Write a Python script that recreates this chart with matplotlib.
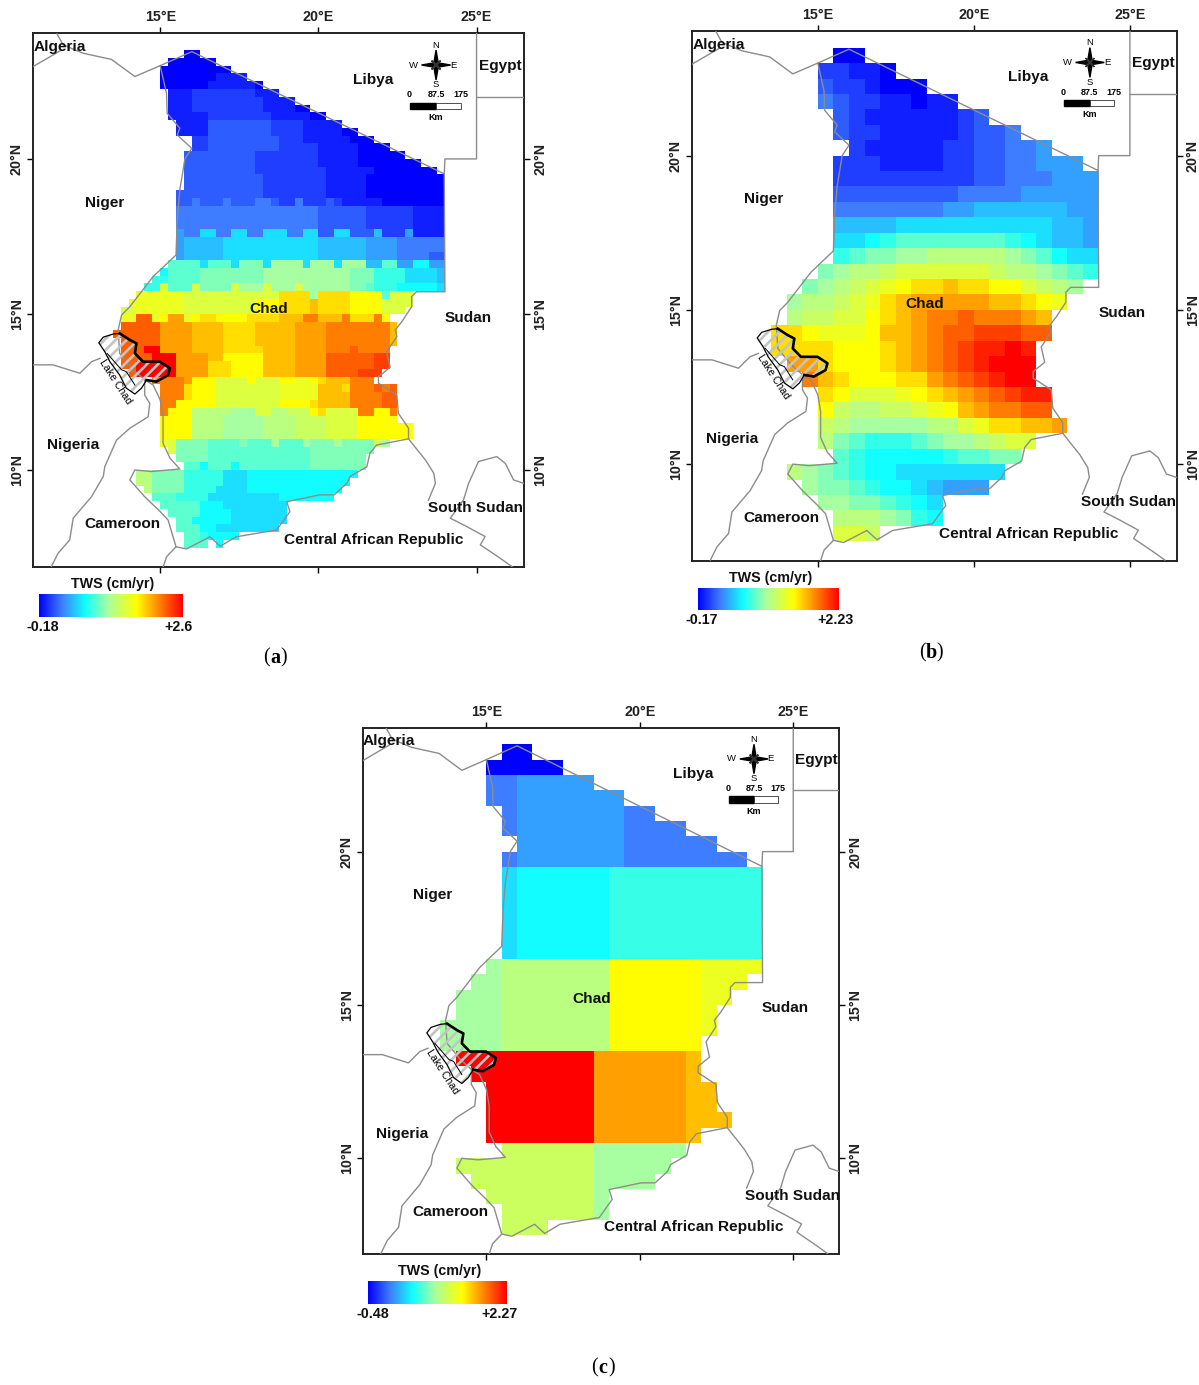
import numpy as np
import matplotlib
matplotlib.use("Agg")
import matplotlib.pyplot as plt
from matplotlib.colors import LinearSegmentedColormap
from matplotlib.patches import Polygon

plt.rcParams['font.family'] = ['Liberation Sans', 'DejaVu Sans']
plt.rcParams['hatch.linewidth'] = 1.9

W, H = 1199, 1385

# each letter is one grid cell, a = lowest class, z = highest class, . = no data
# values of the classes in cm/yr
levels_a = [-0.18, -0.07, 0.04, 0.15, 0.26, 0.38, 0.49, 0.60, 0.71, 0.82, 0.93, 1.04, 1.15,
            1.27, 1.38, 1.49, 1.60, 1.71, 1.82, 1.93, 2.04, 2.16, 2.27, 2.38, 2.49, 2.60]
levels_b = [-0.17, -0.07, 0.02, 0.12, 0.21, 0.31, 0.41, 0.50, 0.60, 0.69, 0.79, 0.89, 0.98,
            1.08, 1.17, 1.27, 1.37, 1.46, 1.56, 1.65, 1.75, 1.85, 1.94, 2.04, 2.13, 2.23]
levels_c = [-0.48, -0.37, -0.26, -0.15, -0.04, 0.07, 0.18, 0.29, 0.40, 0.51, 0.62, 0.73, 0.84,
            0.95, 1.06, 1.17, 1.28, 1.39, 1.50, 1.61, 1.72, 1.83, 1.94, 2.05, 2.16, 2.27]

# panel a: 0.25 degree cells, first row 23.5N, first column 13.5E
rows_a = [
    ".........aa",
    ".......aaaaaa",
    "......aaaaaaaaa",
    "......aaaaaaabbbb",
    "......aaaaaabbbbbba",
    ".......bbbccccccccbbb",
    ".......bbbcccccccccbbbb",
    ".......bbbcccccccccbbbbaa",
    ".......bbbbbccccccccbbbbbaa",
    "........bbbbddddddddccccbbbbb",
    "........bbbbddddddddccccbbbbbaa",
    "..........ccdddddddddcccbbbbbbaaa",
    "..........ccdddddddddcccccbbbbbaaaa",
    ".........dddddddddccccccccbbbbbaaaaaa",
    ".........dddddddddccccccccbbbbbaaaaaaaa",
    ".........dddddddddcccccccccbbbbbbaaaaaaaa",
    ".........ddddddddddccccccccbbbbbaaaaaaaaaa",
    ".........ddddddddddccccccccbbbbbaaaaaaaaaa",
    "........dddddddddddccccccccbbbbbaaaaaaaaaa",
    "........ddedddedddeedccecccdcbbbbbaaaaaaaa",
    "........eeeeeeeeeeeeeeeeeeddddddccccccbbbb",
    "........eeeeeeeeeeeeeeeeeeddddddccccccbbbb",
    "........eeeeeeeeeeeeeeeeeeddddddccccccbbbb",
    "........feehheehheehhheehhddhhdddgcccfbbbb",
    "........fggggghhhhhhhhhhhhggggggffffeeeeee",
    "........fggggghhhhhhhhhhhhggggggffffeeeeee",
    "........fggggghhhhhhhhhhhhggggggffffeeeedd",
    ".......kkkkhkkkhlllhmmmmhmmmhmmmggkkffiiff",
    "......ikkkkllllllllmmmmmmmmmmmllljjjjhhhhg",
    ".....jjkkkkllllllllmmmmmmmmmmmllljjjjhhhhg",
    "....jjpkkkpllllpmmmpmmmpmmmmmmllkjjjiiiiih",
    "...qqqqqqppppppppppppssssmssssrrrrkppp",
    "..qqqqqqqppppppppprrrsssstssssrrrrpppp",
    ".ppqqqqqqppppppppprrrsssstssssrrrrppp",
    ".qqwwqruuqrssrrrrsssstttvvtttvsssvr",
    ".wwwwwuuuuttttsssstttttuuuuvvvvvvvvt",
    "wwwwwwuuuuttttsssstttttuuuuvvvvvvvvt",
    ".wwwwwuuuuttttsssstttttuuuuvvvvvvvvt",
    ".wwwzzuuuuttttsssssttttuuuuvvvwvvvv",
    ".wwwwzzzuuuuttrrrrrttttuuuuwwwwwwxx",
    ".wwzzzzzuuuusssrrrrttttuuuuwwwwwwxx",
    "..wzzzzzuuuusssrrrrttttuuuuwwwwxxx",
    ".....vvvvurrrpppprppprrqqrstttvvv",
    "......vvvsrrrppppppppqqqqqtttsvvvwvw",
    "......vvvsrrrppppppppqqqqqttttvvvvww",
    "......vvrrrrrpppppppprrrrsttttvvvvww",
    "......vrrrnnnnnmmmppnnooorsppppvvrrv",
    "......rrrrnnnnmmmmmnnnnoooopppprrrrr",
    "......rrrrnnnnmmmmmnnnnoooopppprrrrrrr",
    "......rrrrnnnnmmmmmnnnnoooopppprrrrrrr",
    "......qpllllkkkklkkkmkkkmlllmllllom",
    ".......pllllkkkkkkkkkkkkkllllllll",
    "........llllkkkkkkkkkkkkklllllll",
    ".........kkikkkikkkkkkkkklllllll",
    "...nnlllljjjjjhhhiiiiiiiiiiiiii",
    "...nnlllljjjjjhhhiiiiiiiiiiiii",
    "....nlllljjjjhhhhiiiiiiiiiiii",
    ".....kkkjjjjhhhhhhhhhiiiiiii",
    "......kkkkkiiihhhhhhhh",
    ".......kkkkiiiihhhhhhh",
    "........kkiiiiihhhhhhh",
    "........kkkiihhhhhhhh",
    ".........kkjiiii",
    ".........kkk.i",
]

# panels b and c: 0.5 degree cells
rows_b = [
    "....aa",
    "...ccbba",
    "...dccbaaa",
    "...edccbbabb",
    "....dcbbbbbbcd",
    "....dccbbbbbcdde",
    ".....cbbbbbccddeef",
    "....cccbbbbccddeefff",
    "....cccccccccddeeefff",
    "....ddddddddeeeefffff",
    "....eeeeeeeffggggggff",
    "....gggghhhhhhhhhhggf",
    "....hhijkkkkkkkjihggf",
    "....jkllmmnnnnnmlkihh",
    "...lmnnopppppponnmlkj",
    "..lmnopqrsstssrrponm",
    ".mnnopqstuuuuuttsrq",
    ".noopprstuvvwvvvut",
    "ssrqqqrttuvwwxxxww",
    "ssssrrrstuvwxyyzy",
    ".uusrrrstuvwxyzzz",
    "..vtsrrrssuvwxyzz",
    "...srpppqrstuvwxyy",
    "...ronnoopqrtuvvww",
    "...onmmmmmnnpqssttu",
    "...nlkjjjklmmnopp",
    "....kjiiiiijkkll",
    ".nmlkjiihhhhhhh",
    "..mllkjiihgfff",
    "...mmllkjih",
    "....nnnmlji",
    "....ppo",
]

rows_c = [
    "....aa",
    "...aaaaa",
    "...eefffff",
    "...eefffffff",
    "....efffffffee",
    "....efffffffeeee",
    ".....fffffffeeeeee",
    "....efffffffeeeeeeee",
    "....hiiiiiijjjjjjjjjj",
    "....hiiiiiijjjjjjjjjj",
    "....hiiiiiijjjjjjjjjj",
    "....hiiiiiijjjjjjjjjj",
    "....hiiiiiijjjjjjjjjj",
    "....hiiiiiijjjjjjjjjj",
    "...mnnnnnnnrrrrrrqqqq",
    "..mmnnnnnnnrrrrrrqqq",
    ".mmmnnnnnnnrrrrrrqq",
    ".mmmnnnnnnnrrrrrrq",
    "mmmmnnnnnnnrrrrrrq",
    "mmmmnnnnnnnrrrrrr",
    ".zzzzzzzzzuuuuuut",
    "..zzzzzzzzuuuuuut",
    "...zzzzzzzuuuuuutt",
    "...zzzzzzzuuuuuutt",
    "...zzzzzzzuuuuuuttt",
    "...zzzzzzzuuuuuut",
    "....oooooommmmmm",
    ".ooooooooommmmm",
    "..oooooooommmm",
    "...ooooooom",
    "....oooooom",
    "....ooo",
]

# borders in lon, lat
borders = [
    [(11.74, 24.02), (11.93, 23.67), (12.56, 23.4), (13.46, 23.2), (14.2, 22.65), (15.0, 23.0),
     (16.0, 23.45), (23.98, 19.52), (24.0, 20.0), (25.0, 20.0), (25.0, 24.04)],
    [(11.88, 23.5), (10.98, 22.97)],
    [(25.0, 22.0), (26.5, 22.0)],
    [(15.0, 23.0), (15.2, 22.1), (15.22, 21.47), (15.62, 20.99), (15.54, 20.77), (16.0, 20.34),
     (15.78, 20.0), (15.62, 19.0), (15.54, 18.04), (15.5, 16.91), (14.78, 16.22), (14.04, 15.25),
     (13.78, 14.98), (13.67, 14.5), (13.72, 13.75), (14.15, 13.22), (14.51, 12.9)],
    [(23.98, 19.52), (24.0, 15.73), (23.1, 15.73), (22.95, 15.57), (22.95, 15.25), (22.64, 14.77),
     (22.43, 14.5), (22.48, 14.29), (22.16, 13.8), (22.27, 13.3), (21.9, 13.0), (21.9, 12.79),
     (22.48, 12.41), (22.53, 11.82), (22.85, 11.34), (22.85, 11.0), (21.84, 10.8), (21.63, 10.54),
     (21.53, 10.1), (21.0, 9.79), (20.9, 9.57), (20.5, 9.2), (20.05, 9.2), (19.0, 8.98),
     (19.1, 8.66), (18.68, 8.07), (17.4, 7.85), (16.9, 7.55), (16.57, 7.85), (15.83, 7.46),
     (15.5, 7.53), (15.2, 7.21), (15.09, 6.87)],
    [(22.85, 11.0), (23.4, 10.3), (23.65, 9.89), (23.7, 9.57), (23.48, 9.03)],
    [(26.49, 9.57), (26.17, 9.68), (25.91, 10.21), (25.64, 10.43), (25.06, 10.27), (24.75, 9.57),
     (24.59, 9.04), (24.17, 8.45), (24.69, 8.18), (25.27, 7.86), (25.12, 7.59), (25.75, 7.16),
     (26.12, 6.89)],
    [(15.5, 7.53), (15.25, 8.39), (15.0, 8.66), (14.51, 9.14), (14.04, 9.68), (14.2, 10.0),
     (14.72, 9.95), (15.62, 10.03), (15.31, 10.38), (15.09, 10.86), (15.09, 11.71), (15.0, 12.25),
     (14.78, 12.73), (14.51, 12.9)],
    [(14.51, 12.9), (14.51, 12.41), (14.67, 12.14), (14.62, 11.71), (14.04, 11.34), (13.62, 10.96),
     (13.25, 10.11), (13.2, 9.79), (12.83, 9.14), (12.25, 8.45), (12.14, 7.75), (11.77, 7.32),
     (11.56, 6.89)],
    [(10.98, 13.38), (11.61, 13.38), (12.46, 13.11), (12.83, 13.48), (13.1, 13.59)],
]

lake = [(13.06, 14.09), (13.2, 14.27), (13.51, 14.37), (13.72, 14.39), (14.04, 14.18), (14.25, 14.07),
        (14.2, 13.75), (14.46, 13.48), (14.99, 13.48), (15.31, 13.27), (15.25, 13.05), (14.88, 12.84),
        (14.57, 12.89), (14.41, 12.63), (14.2, 12.44), (13.93, 12.63), (13.72, 13.05), (13.41, 13.48),
        (13.25, 13.8)]
lake_shore = lake[3:13]
lake_inner = [(13.32, 13.75), (13.78, 13.22), (13.93, 13.16), (14.2, 12.73)]

countries = ["Algeria", "Libya", "Egypt", "Niger", "Chad", "Sudan", "Nigeria", "Cameroon",
             "South Sudan", "Central African Republic"]
country_lon = [11.83, 21.73, 25.75, 13.25, 18.44, 24.74, 12.24, 13.82, 24.96, 21.76]
country_lat = [23.6, 22.54, 22.99, 18.59, 15.18, 14.89, 10.8, 8.26, 8.78, 7.75]

cmap = LinearSegmentedColormap.from_list("tws", [
    (0.0, "#0000ff"), (0.16, "#3f7fff"), (0.32, "#10ffff"), (0.48, "#a8ffa0"),
    (0.68, "#ffff00"), (0.80, "#ffa000"), (1.0, "#ff0000")])

fig = plt.figure(figsize=(W / 100, H / 100), dpi=100)


def px_axes(x0, x1, y0, y1):
    return fig.add_axes([x0 / W, 1 - y1 / H, (x1 - x0) / W, (y1 - y0) / H])


def draw_compass(ax):
    cx, cy = 23.72, 23.02
    ax.fill([cx, cx + 0.08, cx, cx - 0.08], [cy + 0.48, cy, cy - 0.48, cy], color="black", zorder=6)
    ax.fill([cx + 0.46, cx, cx - 0.46, cx], [cy, cy + 0.08, cy, cy - 0.08], color="black", zorder=6)
    ax.fill([cx + 0.14, cx + 0.03, cx - 0.14, cx - 0.03], [cy + 0.14, cy, cy - 0.14, cy], color="#333333", zorder=6)
    ax.fill([cx - 0.14, cx, cx + 0.14, cx], [cy + 0.14, cy + 0.03, cy - 0.14, cy - 0.03], color="#333333", zorder=6)
    for s, x, y in [("N", cx, 23.66), ("S", cx, 22.38), ("W", 23.0, cy), ("E", 24.27, cy)]:
        ax.text(x, y, s, fontsize=6.8, ha="center", va="center", zorder=6)
    for s, x in [("0", 22.87), ("87.5", 23.72), ("175", 24.5)]:
        ax.text(x, 22.06, s, fontsize=6.5, fontweight="bold", ha="center", va="center", zorder=6)
    ax.fill([22.9, 23.72, 23.72, 22.9], [21.8, 21.8, 21.6, 21.6], color="black", zorder=6)
    ax.fill([23.72, 24.5, 24.5, 23.72], [21.8, 21.8, 21.6, 21.6], facecolor="white", edgecolor="#333333", lw=0.6, zorder=6)
    ax.text(23.72, 21.32, "Km", fontsize=6.5, fontweight="bold", ha="center", va="center", zorder=6)


def draw_panel(box, rows, levels, ncol):
    ax = px_axes(*box)
    grid = np.full((len(rows), ncol), np.nan)
    for i, row in enumerate(rows):
        for j, ch in enumerate(row):
            if ch != ".":
                grid[i, j] = levels[ord(ch) - 97]
    lon_edges = np.linspace(13.5, 24.0, ncol + 1)
    lat_edges = np.linspace(23.5, 7.5, len(rows) + 1)
    ax.pcolormesh(lon_edges, lat_edges, np.ma.masked_invalid(grid), cmap=cmap,
                  vmin=levels[0], vmax=levels[-1], antialiased=False, linewidth=0)
    for line in borders:
        ax.plot(*zip(*line), color="#8c8c8c", lw=1.0, zorder=3)
    ax.add_patch(Polygon(lake, closed=True, facecolor="none", hatch="///", edgecolor="#c4c4c4", lw=0, zorder=4))
    ax.add_patch(Polygon(lake, closed=True, facecolor="none", edgecolor="black", lw=0.9, zorder=5))
    ax.plot(*zip(*lake_shore), color="black", lw=1.9, zorder=5)
    ax.plot(*zip(*lake_inner), color="black", lw=0.7, zorder=5)
    ax.text(13.57, 12.83, "Lake Chad", rotation=-57, fontsize=7.6, ha="center", va="center",
            rotation_mode="anchor", zorder=6)
    for name, lon, lat in zip(countries, country_lon, country_lat):
        ax.text(lon, lat, name, fontsize=11.1, fontweight="bold", ha="center", va="center", color="#111111", zorder=6)
    draw_compass(ax)
    ax.set_xlim(10.97, 26.5)
    ax.set_ylim(6.87, 24.04)
    ax.set_xticks([15, 20, 25])
    ax.set_xticklabels(["15°E", "20°E", "25°E"])
    ax.set_yticks([10, 15, 20])
    ax.set_yticklabels(["10°N", "15°N", "20°N"], rotation=90, va="center")
    ax.tick_params(top=True, labeltop=True, bottom=True, labelbottom=False, left=True, right=True,
                   labelleft=True, labelright=True, length=4, width=1, labelsize=10.3, pad=2.5)
    for lab in ax.get_yticklabels() + ax.get_xticklabels():
        lab.set_color("#222222")
        lab.set_fontweight("bold")
    for side in ax.spines.values():
        side.set_linewidth(1.4)
        side.set_color("#222222")
    return ax


def draw_legend(x0, x1, y0, y1, low, high, low_x, high_x):
    ax = px_axes(x0, x1, y0, y1)
    ax.imshow(np.linspace(0, 1, 256)[None, :], cmap=cmap, aspect="auto")
    ax.axis("off")
    mid = (x0 + x1) / 2
    fig.text((mid + 2.5) / W, 1 - (y0 - 10) / H, "TWS (cm/yr)", fontsize=10.3, fontweight="bold", ha="center", va="center", color="#111111")
    fig.text(low_x / W, 1 - (y1 + 10) / H, low, fontsize=10.3, fontweight="bold", ha="center", va="center", color="#111111")
    fig.text(high_x / W, 1 - (y1 + 10) / H, high, fontsize=10.3, fontweight="bold", ha="center", va="center", color="#111111")


def draw_caption(x, y, letter):
    # the letter is bold, the brackets are not
    fig.text((x - 9) / W, 1 - y / H, "(", fontsize=14.5, family="Liberation Serif", ha="center", va="center")
    fig.text(x / W, 1 - y / H, letter, fontsize=14.5, family="Liberation Serif", fontweight="bold", ha="center", va="center")
    fig.text((x + 9) / W, 1 - y / H, ")", fontsize=14.5, family="Liberation Serif", ha="center", va="center")


draw_panel((32.7, 524, 33.3, 567.3), rows_a, levels_a, 42)
draw_panel((692, 1176.7, 31, 560.7), rows_b, levels_b, 21)
draw_panel((362.7, 839.3, 727.7, 1254.3), rows_c, levels_c, 21)

draw_legend(39, 182, 594, 617, "-0.18", "+2.6", 43, 179)
draw_legend(698, 839, 588, 610, "-0.17", "+2.23", 702, 835.5)
draw_legend(368, 507, 1281, 1304, "-0.48", "+2.27", 373, 500)

draw_caption(275, 658, "a")
draw_caption(931, 653, "b")
draw_caption(603, 1368, "c")

fig.savefig("out.png", dpi=100)
